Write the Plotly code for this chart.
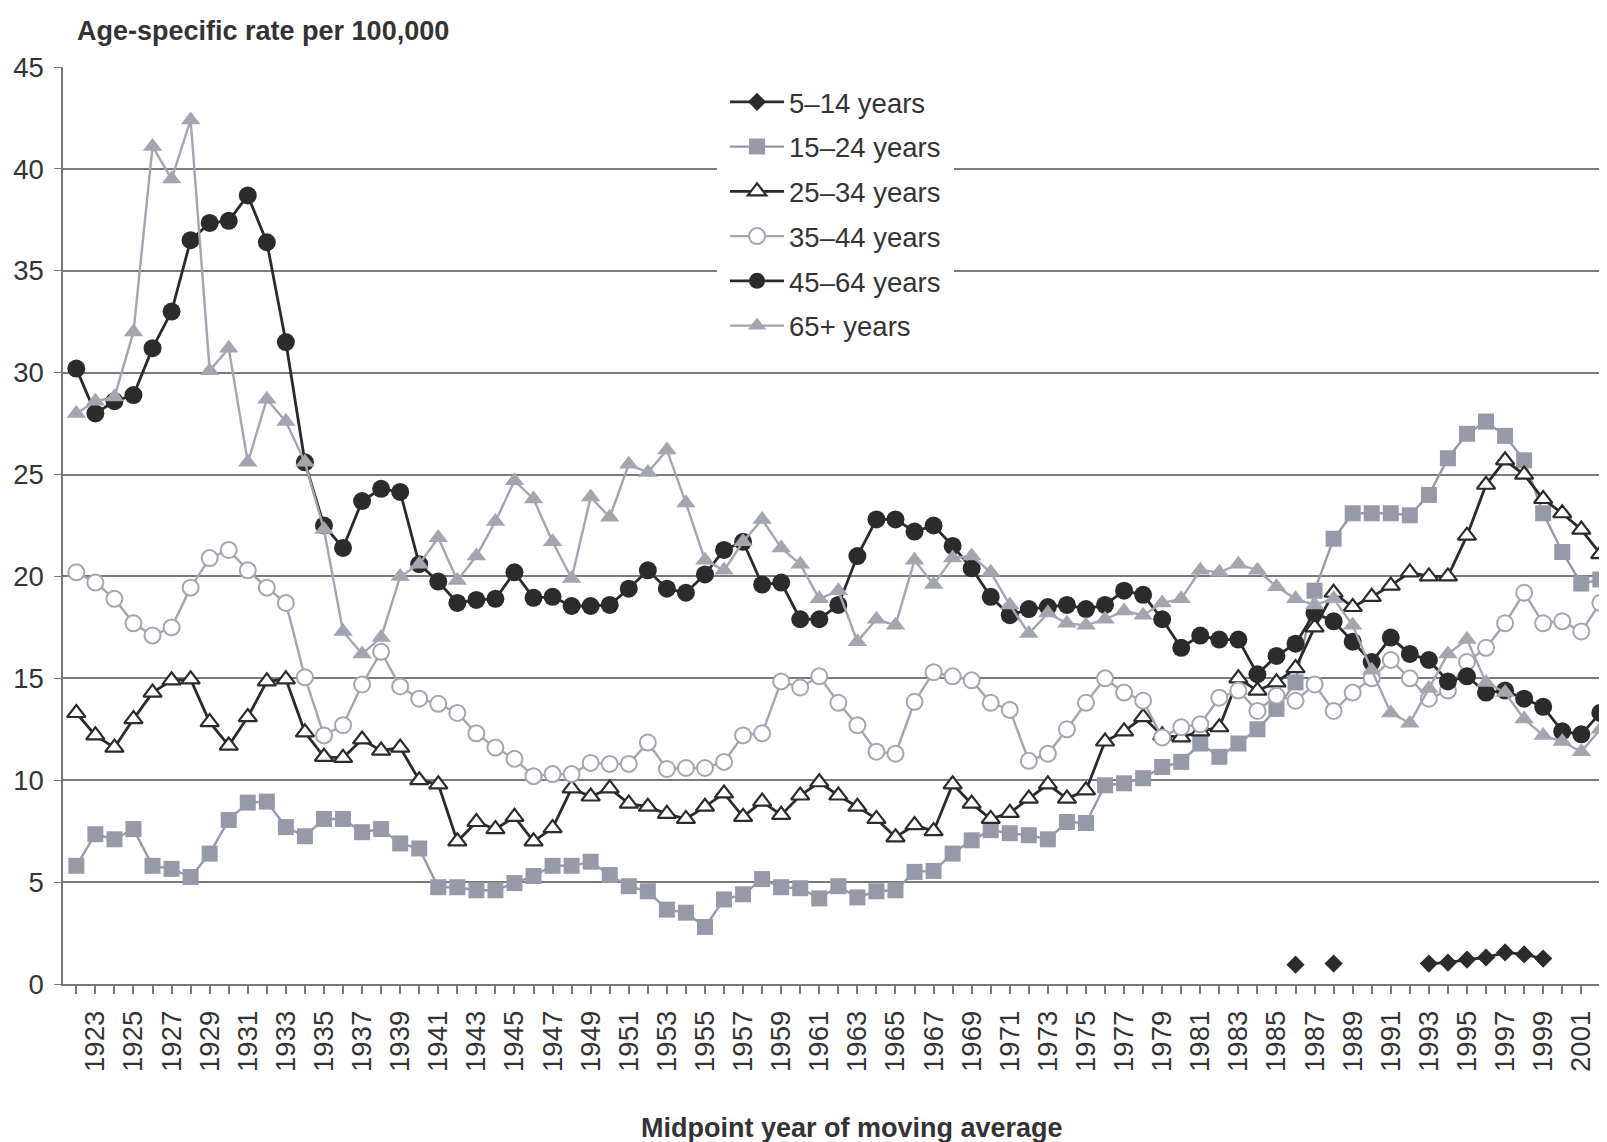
import plotly.graph_objects as go

# midpoint year of the moving average
years = list(range(1922, 2003))

# age-specific rate per 100,000 (1922..2002)
rate_5_14 = [None] * 81
for yr, v in [(1986, 0.95), (1988, 1.0), (1993, 1.0), (1994, 1.05), (1995, 1.2),
              (1996, 1.3), (1997, 1.55), (1998, 1.45), (1999, 1.25)]:
    rate_5_14[yr - 1922] = v

rate_15_24 = [
    5.8, 7.35, 7.1, 7.6, 5.8, 5.65, 5.25, 6.4, 8.05, 8.9,
    8.95, 7.7, 7.25, 8.1, 8.1, 7.45, 7.6, 6.9, 6.65, 4.75,
    4.75, 4.6, 4.6, 4.95, 5.3, 5.8, 5.8, 6.0, 5.35, 4.8,
    4.55, 3.65, 3.5, 2.8, 4.15, 4.4, 5.15, 4.75, 4.7, 4.2,
    4.8, 4.25, 4.55, 4.6, 5.5, 5.55, 6.4, 7.05, 7.55, 7.4,
    7.3, 7.1, 7.95, 7.9, 9.75, 9.85, 10.1, 10.65, 10.9, 11.8,
    11.15, 11.8, 12.5, 13.5, 14.8, 19.3, 21.85, 23.1, 23.1, 23.1,
    23.0, 24.0, 25.8, 27.0, 27.6, 26.9, 25.7, 23.1, 21.2, 19.65,
    19.85,
]

rate_25_34 = [
    13.3, 12.2, 11.6, 13.0, 14.3, 14.9, 14.95, 12.85, 11.7, 13.1,
    14.85, 14.95, 12.35, 11.15, 11.1, 12.0, 11.45, 11.6, 10.0, 9.8,
    7.0, 7.95, 7.6, 8.2, 7.0, 7.65, 9.6, 9.2, 9.6, 8.85,
    8.7, 8.35, 8.1, 8.7, 9.35, 8.2, 8.95, 8.3, 9.25, 9.9,
    9.25, 8.7, 8.1, 7.2, 7.8, 7.5, 9.8, 8.85, 8.1, 8.4,
    9.1, 9.8, 9.1, 9.5, 11.9, 12.4, 13.1, 12.2, 12.1, 12.4,
    12.6, 15.0, 14.4, 14.8, 15.5, 17.5, 19.2, 18.5, 19.0, 19.55,
    20.2, 20.0, 20.0, 22.0, 24.5, 25.7, 25.0, 23.8, 23.1, 22.3,
    21.1,
]

rate_35_44 = [
    20.2, 19.7, 18.9, 17.7, 17.1, 17.5, 19.45, 20.9, 21.3, 20.3,
    19.45, 18.7, 15.05, 12.2, 12.7, 14.7, 16.3, 14.6, 14.0, 13.75,
    13.3, 12.3, 11.6, 11.05, 10.2, 10.3, 10.3, 10.85, 10.8, 10.8,
    11.85, 10.55, 10.6, 10.6, 10.9, 12.2, 12.3, 14.85, 14.55, 15.1,
    13.8, 12.7, 11.4, 11.3, 13.85, 15.3, 15.1, 14.9, 13.8, 13.45,
    10.95, 11.3, 12.5, 13.8, 15.0, 14.3, 13.9, 12.1, 12.6, 12.75,
    14.05, 14.4, 13.4, 14.15, 13.9, 14.7, 13.4, 14.3, 15.0, 15.9,
    15.0, 14.0, 14.4, 15.8, 16.5, 17.7, 19.2, 17.7, 17.8, 17.3,
    18.7,
]

rate_45_64 = [
    30.2, 28.0, 28.6, 28.9, 31.2, 33.0, 36.5, 37.35, 37.45, 38.7,
    36.4, 31.5, 25.6, 22.5, 21.4, 23.7, 24.3, 24.15, 20.6, 19.75,
    18.7, 18.85, 18.9, 20.2, 18.95, 19.0, 18.55, 18.55, 18.6, 19.4,
    20.3, 19.4, 19.2, 20.1, 21.3, 21.7, 19.6, 19.7, 17.9, 17.9,
    18.6, 21.0, 22.8, 22.8, 22.2, 22.5, 21.5, 20.4, 19.0, 18.1,
    18.4, 18.5, 18.6, 18.4, 18.6, 19.3, 19.1, 17.9, 16.5, 17.1,
    16.9, 16.9, 15.2, 16.1, 16.7, 18.2, 17.8, 16.8, 15.8, 17.0,
    16.2, 15.9, 14.85, 15.1, 14.3, 14.4, 14.0, 13.6, 12.4, 12.25,
    13.3,
]

rate_65_plus = [
    28.0, 28.6, 28.8, 32.0, 41.1, 39.5, 42.4, 30.1, 31.2, 25.6,
    28.7, 27.6, 25.6, 22.3, 17.3, 16.2, 17.0, 20.0, 20.6, 21.9,
    19.8, 21.0, 22.7, 24.7, 23.8, 21.7, 19.9, 23.9, 22.9, 25.5,
    25.1, 26.2, 23.6, 20.8, 20.3, 21.7, 22.8, 21.4, 20.6, 18.9,
    19.3, 16.8, 17.9, 17.6, 20.8, 19.6, 20.9, 21.0, 20.2, 18.6,
    17.2, 18.2, 17.7, 17.6, 17.9, 18.3, 18.1, 18.7, 18.9, 20.3,
    20.2, 20.6, 20.3, 19.5, 18.9, 18.6, 18.9, 17.6, 15.4, 13.3,
    12.8, 14.5, 16.2, 16.9, 14.8, 14.3, 13.0, 12.2, 11.9, 11.4,
    12.5,
]

x_tick_years = list(range(1923, 2002, 2))

DARK = "#2b2b2b"
GREY = "#9699a8"
GREY_LT = "#a3a5b0"
FONT = "Liberation Sans"

series = [
    ("5\u201314 years", rate_5_14, dict(symbol="diamond", size=14, color=DARK), DARK, 2.8),
    ("15\u201324 years", rate_15_24, dict(symbol="square", size=16, color=GREY), GREY, 2.4),
    ("25\u201334 years", rate_25_34,
     dict(symbol="triangle-up", size=16, color="white", line=dict(color=DARK, width=2.2)), DARK, 2.8),
    ("35\u201344 years", rate_35_44,
     dict(symbol="circle", size=16, color="white", line=dict(color=GREY_LT, width=2)), GREY_LT, 2.4),
    ("45\u201364 years", rate_45_64, dict(symbol="circle", size=18, color=DARK), DARK, 2.8),
    ("65+ years", rate_65_plus, dict(symbol="triangle-up", size=17, color=GREY_LT), GREY_LT, 2.4),
]

fig = go.Figure()
for name, vals, marker, lcolor, lwidth in series:
    fig.add_trace(go.Scatter(
        x=years, y=vals, mode="lines+markers", name=name, legendgroup=name,
        line=dict(color=lcolor, width=lwidth), marker=marker,
    ))

# the page body has an 8px margin, so the figure is 8px smaller than the window
fig.update_layout(
    width=1599, height=1134,
    margin=dict(l=55, r=0, t=59, b=158),
    paper_bgcolor="white", plot_bgcolor="white",
    font=dict(family=FONT, color="#333333"),
    xaxis=dict(
        range=[1921.3, 2002.35], tickvals=x_tick_years,
        ticktext=[str(y) for y in x_tick_years],
        tickangle=-90, tickfont=dict(size=27.5, color="#333333"),
        ticks="outside", ticklen=8, tickcolor="#777777", tickwidth=1.5,
        minor=dict(dtick=1, tick0=1922, ticks="outside", ticklen=8,
                   tickcolor="#777777", tickwidth=1.5),
        showgrid=False, zeroline=False,
        showline=True, linecolor="#777777", linewidth=1.5,
        ticklabelstandoff=6,
    ),
    yaxis=dict(
        range=[0, 45], dtick=5, tick0=0,
        tickfont=dict(size=27.5, color="#333333"),
        ticks="outside", ticklen=7, tickcolor="#777777",
        showgrid=True, gridcolor="#7a7a7a", gridwidth=1.5,
        zeroline=False, showline=True, linecolor="#777777", linewidth=1.5,
        ticklabelstandoff=5,
    ),
    legend=dict(
        x=0.4236, y=0.9973, xanchor="left", yanchor="top",
        bgcolor="white", bordercolor="white", borderwidth=8,
        font=dict(size=27.5, color="#333333", family=FONT),
        tracegroupgap=6, itemwidth=54,
    ),
    showlegend=True,
    annotations=[
        dict(text="<b>Age-specific rate per 100,000</b>", xref="paper", yref="paper",
             x=0.008, y=1.039, xanchor="left", yanchor="middle", showarrow=False,
             font=dict(size=27, color="#333333", family=FONT)),
        dict(text="<b>Midpoint year of moving average</b>", xref="paper", yref="paper",
             x=0.511, y=-0.1565, xanchor="center", yanchor="middle", showarrow=False,
             font=dict(size=27, color="#333333", family=FONT)),
    ],
)

fig.write_html("out.html")
